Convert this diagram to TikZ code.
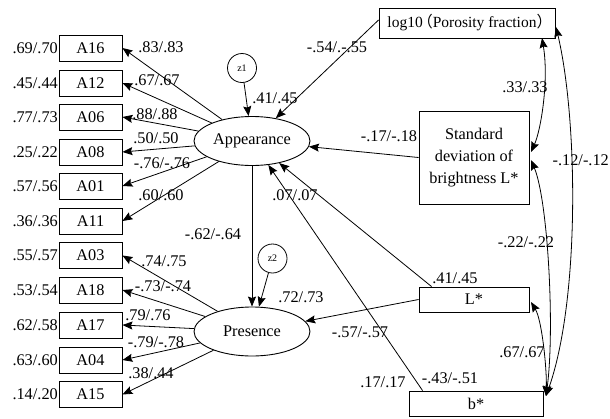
\documentclass[tikz,border=0pt]{standalone}
\usepackage{fontspec}
\setmainfont{Liberation Serif}
\newfontfamily\cjk{Noto Sans CJK SC}
\usetikzlibrary{arrows.meta,shapes.geometric}
\begin{document}
\begin{tikzpicture}[x=1pt,y=-1pt,
  font=\fontsize{16.3}{22}\selectfont,
  obs/.style={draw,line width=0.9pt,inner sep=0pt,minimum width=63pt,minimum height=26pt},
  rbox/.style={draw,line width=0.9pt,inner sep=0pt,align=center},
  lat/.style={draw,ellipse,line width=0.9pt,inner sep=0pt,minimum width=116pt,minimum height=49pt},
  err/.style={draw,circle,line width=0.8pt,inner sep=0pt,minimum size=29pt,font=\fontsize{10}{12}\selectfont},
  arr/.style={line width=0.8pt,-{Stealth[length=10pt,width=8pt,inset=1.5pt]}},
  darr/.style={line width=0.8pt,{Stealth[length=10pt,width=8pt,inset=1.5pt]}-{Stealth[length=10pt,width=8pt,inset=1.5pt]}},
  lab/.style={inner sep=0pt},
  rl/.style={inner sep=0pt,anchor=east}]
\useasboundingbox (0,0) rectangle (610,418);

% observed indicators
\foreach \n/\y/\r in {A16/48/{.69/.70},A12/83/{.45/.44},A06/117/{.77/.73},A08/152/{.25/.22},A01/186/{.57/.56},A11/221/{.36/.36},A03/255.5/{.55/.57},A18/290/{.53/.54},A17/325/{.62/.58},A04/360/{.63/.60},A15/394.5/{.14/.20}}{
  \node[obs] (\n) at (90.5,\y) {\n};
  \node[rl] (r\n) at (58,\y) {\r};
}

% latent
\node[lat] (App) at (252,141) {Appearance};
\node[lat] (Pre) at (252,331.5) {Presence};
\node[err] (z1) at (242,68) {z1};
\node[err] (z2) at (272.5,258.5) {z2};

% exogenous
\node[rbox,minimum width=176pt,minimum height=30pt,font=\fontsize{15.5}{20}\selectfont] (log) at (467,23) {log10\makebox[10pt][r]{\cjk （}Porosity fraction\makebox[10pt][l]{\cjk ）}};
\node[rbox,minimum width=110pt,minimum height=93pt] (SD) at (474,157.5) {Standard\\deviation of\\brightness L*};
\node[rbox,minimum width=110pt,minimum height=25pt] (L) at (474,299.5) {L*};
\node[rbox,minimum width=134pt,minimum height=25pt] (b) at (476,403.5) {b*};

% loadings
\foreach \n in {A16,A12,A06,A08,A01,A11}{\draw[arr] (App) -- (\n.east);}
\foreach \n in {A03,A18,A17,A04,A15}{\draw[arr] (Pre) -- (\n.east);}
\draw[arr] (z1) -- (App);
\draw[arr] (z2) -- (Pre);
\draw[arr] (App.south) -- (Pre.north);

% regressions
\draw[arr] ([yshift=3pt]log.west) -- (App);
\draw[arr] (SD.west) -- (App);
\draw[arr] ([xshift=13pt]L.north west) -- (App);
\draw[arr] ([xshift=14pt]b.north west) -- (App);
\draw[arr] (L.west) -- (Pre);

% correlations
\coordinate (c1) at (542,38);
\coordinate (c2) at (531,152);
\coordinate (c3) at (556,27);
\coordinate (c4) at (546,396);
\coordinate (c5) at (531,160);
\coordinate (c6) at (531,302);
\draw[darr] (c1) .. controls (549,80) and (541,130) .. (c2);
\draw[darr] (c3) .. controls (578,120) and (580,300) .. (c4);
\draw[darr] (c5) .. controls (548,200) and (555,330) .. (c4);
\draw[darr] (c6) .. controls (542,320) and (547,370) .. (c4);

% path labels
\node[lab] (l1) at (161,47) {.83/.83};
\node[lab] (l2) at (157,80) {.67/.67};
\node[lab] (l3) at (155,114) {.88/.88};
\node[lab] (l4) at (156,138) {.50/.50};
\node[lab] (l5) at (162,163) {-.76/-.76};
\node[lab] (l6) at (161,195) {.60/.60};
\node[lab] (l7) at (213,234) {-.62/-.64};
\node[lab] (l8) at (164,261) {.74/.75};
\node[lab] (l9) at (163,286) {-.73/-.74};
\node[lab] (l10) at (148,315) {.79/.76};
\node[lab] (l11) at (156,342) {-.79/-.78};
\node[lab] (l12) at (151,373) {.38/.44};
\node[lab] (l13) at (301,297) {.72/.73};
\node[lab] (l14) at (275,98) {.41/.45};
\node[lab] (l15) at (337,47) {-.54/.-.55};
\node[lab] (l16) at (389,136) {-.17/-.18};
\node[lab] (l17) at (295,195) {.07/.07};
\node[lab] (l18) at (525,87) {.33/.33};
\node[lab,anchor=east] (l19) at (609,160) {-.12/-.12};
\node[lab] (l20) at (526,242) {-.22/-.22};
\node[lab] (l21) at (455,278) {.41/.45};
\node[lab] (l22) at (360,332) {-.57/-.57};
\node[lab] (l23) at (522,352) {.67/.67};
\node[lab] (l24) at (383,382) {.17/.17};
\node[lab] (l25) at (450,378) {-.43/-.51};
\end{tikzpicture}
\end{document}
